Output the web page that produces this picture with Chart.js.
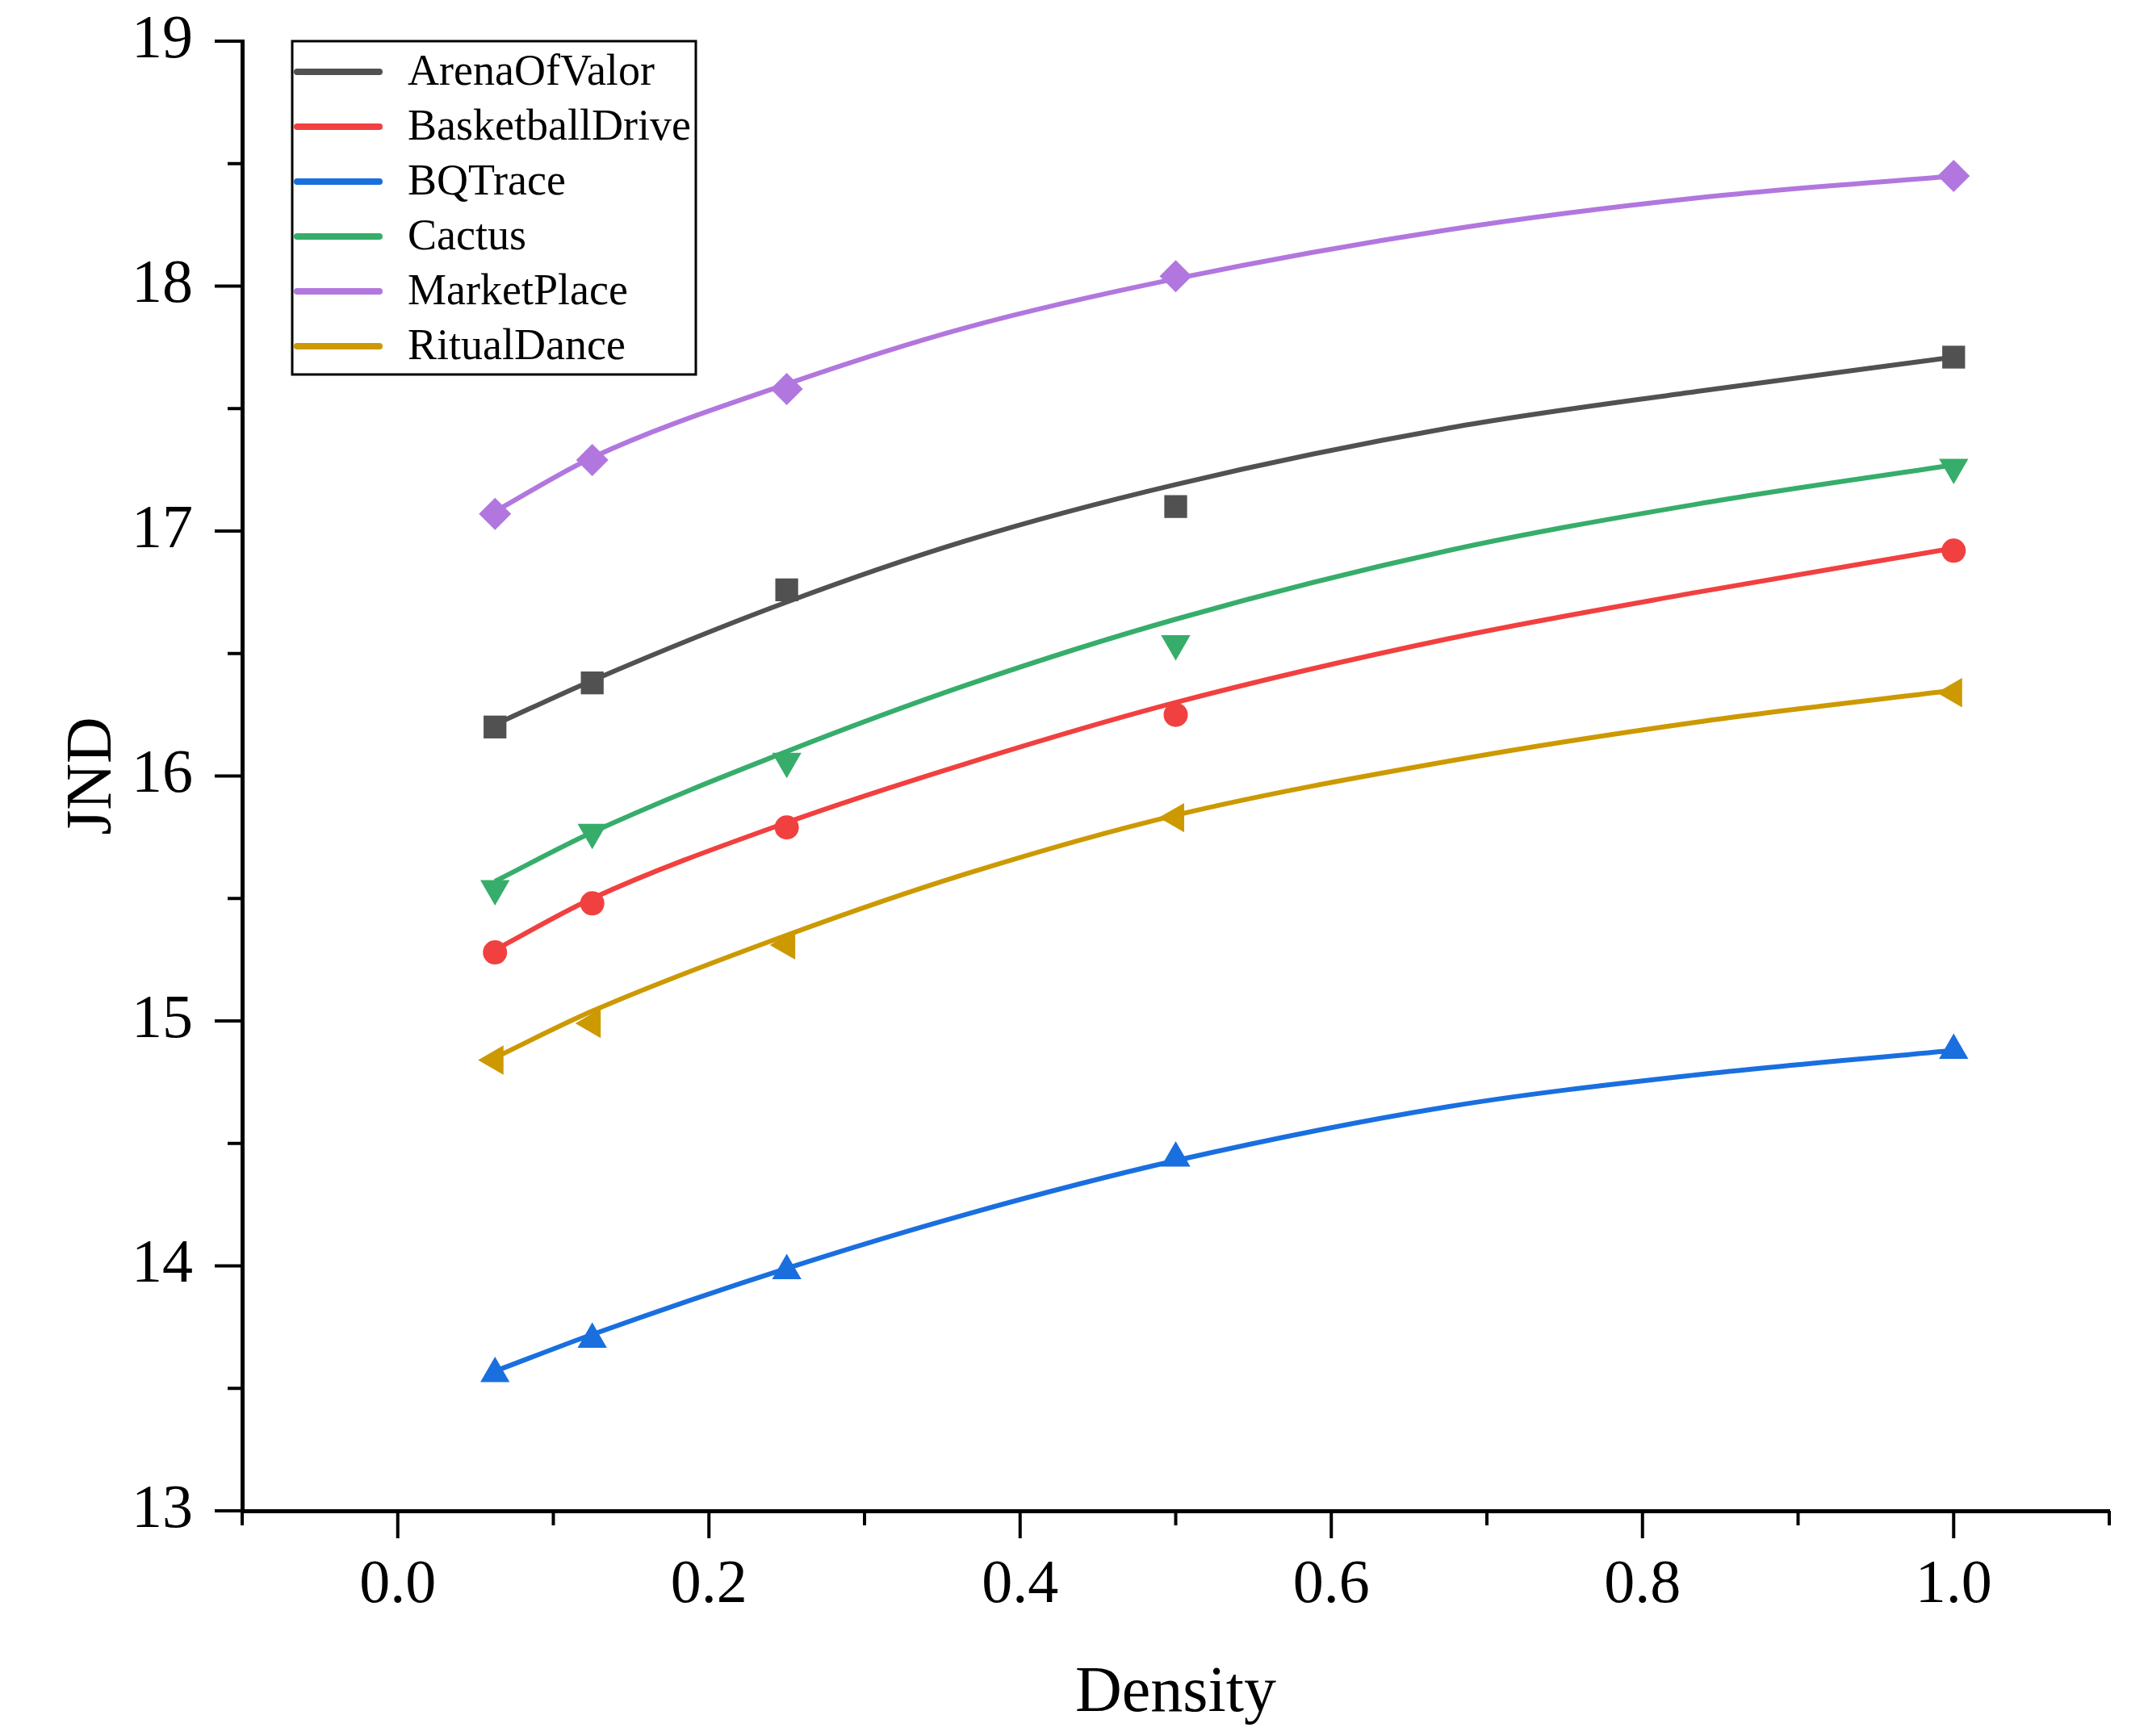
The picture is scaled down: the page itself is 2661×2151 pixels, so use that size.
<!DOCTYPE html>
<html>
<head>
<meta charset="utf-8">
<script src="https://cdn.jsdelivr.net/npm/chart.js@4.4.1/dist/chart.umd.min.js"></script>
<style>
html, body { margin: 0; padding: 0; background: #fff; }
#wrap { width: 2661px; height: 2151px; }
</style>
</head>
<body>
<div id="wrap"><canvas id="jndChart"></canvas></div>
<script>
var densities = [0.0625, 0.125, 0.25, 0.5, 1.0];
var fitDensities = [0.0625, 0.125, 0.25, 0.365, 0.5, 0.675, 0.835, 1.0];

var seriesNames = ['ArenaOfValor', 'BasketballDrive', 'BQTrace', 'Cactus', 'MarketPlace', 'RitualDance'];

// JND at each density (markers)
var arenaOfValor = [16.20, 16.38, 16.76, 17.10, 17.71];
var basketballDrive = [15.28, 15.48, 15.79, 16.25, 16.92];
var bqTrace = [13.56, 13.70, 13.98, 14.44, 14.88];
var cactus = [15.54, 15.77, 16.06, 16.54, 17.26];
var marketPlace = [17.07, 17.29, 17.58, 18.04, 18.45];
var ritualDance = [14.84, 14.99, 15.31, 15.83, 16.34];

// fitted curves at fitDensities
var arenaOfValorFit = [16.21, 16.39, 16.71, 16.96, 17.19, 17.42, 17.57, 17.71];
var basketballDriveFit = [15.29, 15.50, 15.81, 16.05, 16.30, 16.56, 16.75, 16.93];
var bqTraceFit = [13.57, 13.72, 13.99, 14.21, 14.43, 14.65, 14.78, 14.88];
var cactusFit = [15.57, 15.77, 16.10, 16.37, 16.64, 16.92, 17.11, 17.27];
var marketPlaceFit = [17.08, 17.30, 17.60, 17.83, 18.03, 18.23, 18.36, 18.45];
var ritualDanceFit = [14.85, 15.04, 15.35, 15.60, 15.84, 16.06, 16.22, 16.35];

var measured = [arenaOfValor, basketballDrive, bqTrace, cactus, marketPlace, ritualDance];
var fitted = [arenaOfValorFit, basketballDriveFit, bqTraceFit, cactusFit, marketPlaceFit, ritualDanceFit];

var seriesColors = ['#515151', '#F14040', '#1A6FDF', '#37AD6B', '#B177DE', '#CC9900'];
var markerStyles = ['rect', 'circle', 'triangle', 'triangle', 'rectRot', 'triangle'];
var markerRotations = [0, 0, 0, 180, 0, -90];
var markerRadius = [20, 15, 21, 21, 20, 21];

var FONT = "'Liberation Serif', 'Times New Roman', serif";

var DataSets = [];
// markers first so they sit on top of the curves
seriesNames.forEach((name, i) => {
    DataSets.push({
        type: 'scatter',
        label: name,
        isMarker: true,
        data: densities.map((d, j) => ({ x: d, y: measured[i][j] })),
        pointStyle: markerStyles[i],
        rotation: markerRotations[i],
        pointRadius: markerRadius[i],
        pointHoverRadius: markerRadius[i],
        backgroundColor: seriesColors[i],
        borderColor: seriesColors[i],
        borderWidth: 0,
        showLine: false
    });
});
seriesNames.forEach((name, i) => {
    DataSets.push({
        type: 'line',
        label: name,
        data: fitDensities.map((d, j) => ({ x: d, y: fitted[i][j] })),
        borderColor: seriesColors[i],
        backgroundColor: seriesColors[i],
        borderWidth: 6,
        pointRadius: 0,
        cubicInterpolationMode: 'monotone',
        fill: false
    });
});

// outward tick marks, long for labelled ticks, short for the others
var tickMarks = {
    id: 'tickMarks',
    afterDraw(chart) {
        var ctx = chart.ctx;
        var area = chart.chartArea;
        ctx.save();
        ctx.strokeStyle = '#000';
        ctx.lineWidth = 4;
        chart.scales.x.ticks.forEach(t => {
            var px = chart.scales.x.getPixelForValue(t.value);
            var len = t.label !== '' ? 34 : 18;
            ctx.beginPath();
            ctx.moveTo(px, area.bottom);
            ctx.lineTo(px, area.bottom + len);
            ctx.stroke();
        });
        chart.scales.y.ticks.forEach(t => {
            var py = chart.scales.y.getPixelForValue(t.value);
            var len = t.label !== '' ? 34 : 18;
            ctx.beginPath();
            ctx.moveTo(area.left, py);
            ctx.lineTo(area.left - len, py);
            ctx.stroke();
        });
        ctx.restore();
    }
};

// boxed legend in the upper left of the plot
var boxLegend = {
    id: 'boxLegend',
    afterDraw(chart) {
        var ctx = chart.ctx;
        var area = chart.chartArea;
        var left = area.left + 62;
        var top = area.top;
        var w = 500, h = 413, row = 68;
        ctx.save();
        ctx.lineWidth = 3;
        ctx.strokeStyle = '#000';
        ctx.strokeRect(left, top, w, h);
        ctx.font = '54px ' + FONT;
        ctx.textBaseline = 'middle';
        ctx.fillStyle = '#000';
        var items = chart.data.datasets.filter(ds => !ds.isMarker);
        items.forEach((ds, i) => {
            var y = top + 38 + i * row;
            ctx.strokeStyle = ds.borderColor;
            ctx.lineWidth = 8;
            ctx.lineCap = 'round';
            ctx.beginPath();
            ctx.moveTo(left + 6, y);
            ctx.lineTo(left + 108, y);
            ctx.stroke();
            ctx.fillText(ds.label, left + 143, y + 2);
        });
        ctx.restore();
    }
};

var ctx = document.getElementById('jndChart').getContext('2d');
var jndChart = new Chart(ctx, {
    type: 'scatter',
    data: { datasets: DataSets },
    plugins: [tickMarks, boxLegend],
    options: {
        responsive: true,
        maintainAspectRatio: false,
        devicePixelRatio: 1,
        animation: false,
        layout: { padding: { left: 0, right: 48, top: 51, bottom: 0 } },
        plugins: {
            legend: { display: false },
            tooltip: { enabled: false }
        },
        scales: {
            x: {
                type: 'linear',
                min: -0.1,
                max: 1.1,
                afterFit(scale) {
                    scale.height = 279;
                    scale.paddingLeft = 0;
                    scale.paddingRight = 0;
                },
                grid: { display: false },
                border: { display: true, color: '#000', width: 5 },
                ticks: {
                    stepSize: 0.1,
                    autoSkip: false,
                    maxRotation: 0,
                    padding: 39,
                    color: '#000',
                    font: { family: FONT, size: 76 },
                    callback: function (value) {
                        var r = Math.round(value * 10);
                        return Math.abs(r) % 2 === 0 ? (r / 10).toFixed(1) : '';
                    }
                },
                title: {
                    display: true,
                    text: 'Density',
                    color: '#000',
                    font: { family: FONT, size: 80, lineHeight: 1 },
                    padding: { top: 0, bottom: 12 }
                }
            },
            y: {
                type: 'linear',
                min: 13,
                max: 19,
                afterFit(scale) {
                    scale.width = 300;
                    scale.paddingTop = 0;
                    scale.paddingBottom = 0;
                },
                grid: { display: false },
                border: { display: true, color: '#000', width: 5 },
                ticks: {
                    stepSize: 0.5,
                    autoSkip: false,
                    padding: 53,
                    color: '#000',
                    font: { family: FONT, size: 76 },
                    callback: function (value) {
                        return Number.isInteger(value) ? String(value) : '';
                    }
                },
                title: {
                    display: true,
                    text: 'JND',
                    color: '#000',
                    font: { family: FONT, size: 80, lineHeight: 1 },
                    padding: { top: 76, bottom: 0 }
                }
            }
        }
    }
});
</script>
</body>
</html>
